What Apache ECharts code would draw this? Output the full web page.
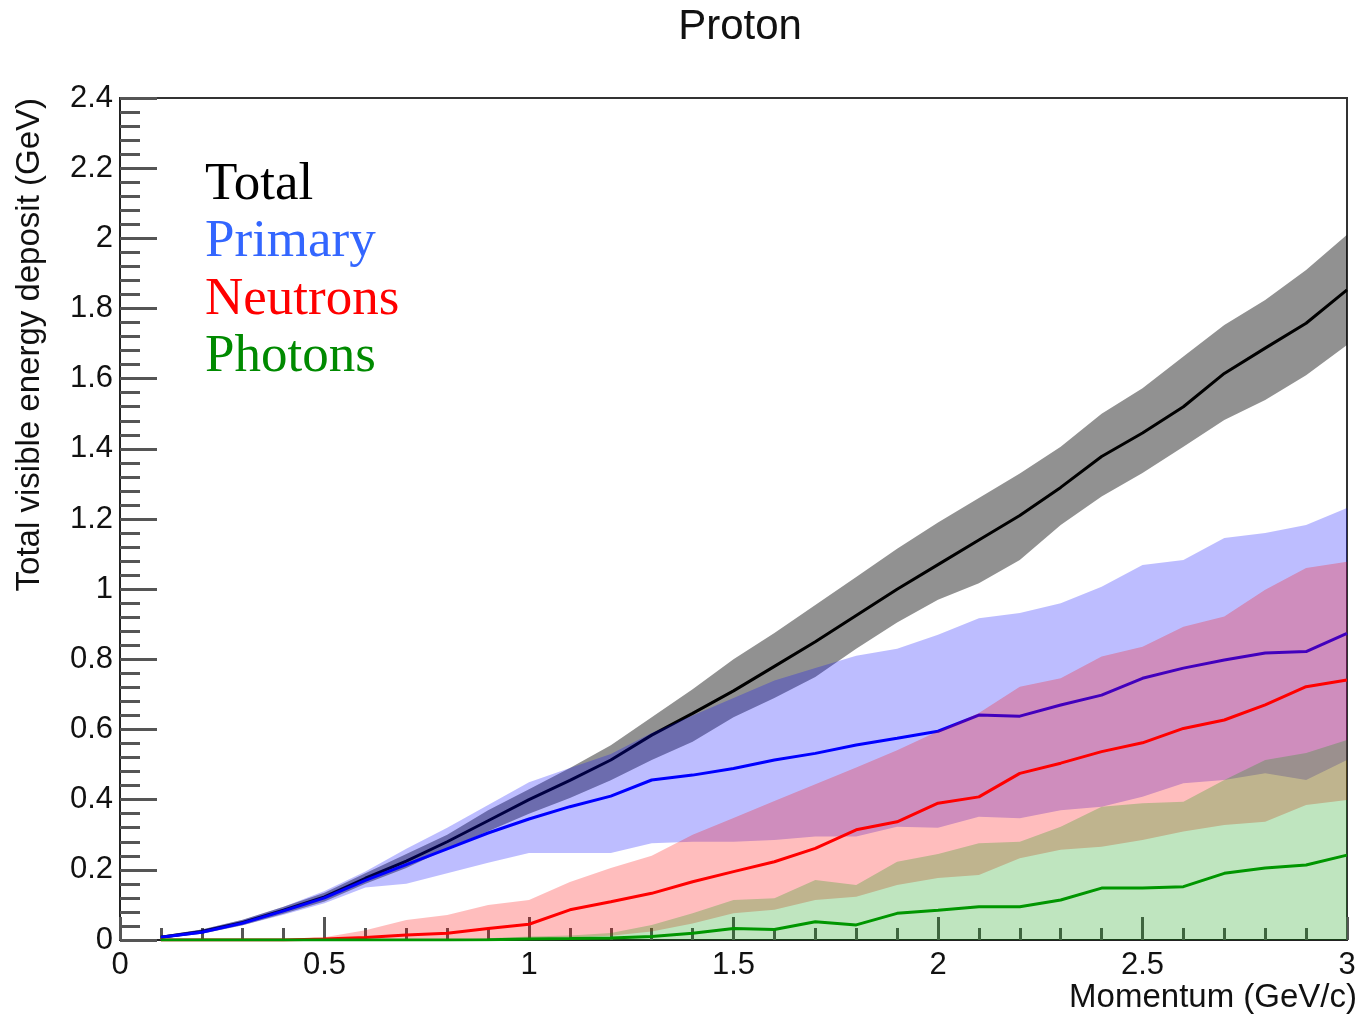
<!DOCTYPE html>
<html>
<head>
<meta charset="utf-8">
<title>Proton</title>
<script src="https://cdn.jsdelivr.net/npm/echarts@6/dist/echarts.min.js"></script>
<style>
  html, body { margin: 0; padding: 0; background: #fff; }
  #chart { width: 1363px; height: 1020px; }
</style>
</head>
<body>
<div id="chart"></div>
<script>
// momentum bins (GeV/c)
var momentum = [0.1, 0.2, 0.3, 0.4, 0.5, 0.6, 0.7, 0.8, 0.9, 1.0,
                1.1, 1.2, 1.3, 1.4, 1.5, 1.6, 1.7, 1.8, 1.9, 2.0,
                2.1, 2.2, 2.3, 2.4, 2.5, 2.6, 2.7, 2.8, 2.9, 3.0];

// Total
var totalMean = [0.008, 0.024, 0.05, 0.085, 0.123, 0.176, 0.225, 0.28, 0.34, 0.40,
                 0.455, 0.513, 0.584, 0.646, 0.71, 0.78, 0.85, 0.925, 1.0, 1.07,
                 1.14, 1.21, 1.29, 1.378, 1.445, 1.52, 1.615, 1.687, 1.758, 1.853];
var totalHi   = [0.012, 0.03, 0.058, 0.095, 0.135, 0.19, 0.245, 0.30, 0.37, 0.43,
                 0.49, 0.555, 0.635, 0.715, 0.80, 0.875, 0.955, 1.035, 1.115, 1.19,
                 1.26, 1.33, 1.406, 1.50, 1.573, 1.663, 1.753, 1.824, 1.91, 2.01];
var totalLo   = [0.004, 0.018, 0.042, 0.075, 0.11, 0.16, 0.205, 0.26, 0.31, 0.36,
                 0.405, 0.455, 0.513, 0.565, 0.635, 0.69, 0.75, 0.83, 0.905, 0.97,
                 1.017, 1.083, 1.183, 1.264, 1.331, 1.406, 1.482, 1.539, 1.61, 1.696];

// Primary
var primaryMean = [0.008, 0.022, 0.048, 0.083, 0.12, 0.17, 0.215, 0.26, 0.305, 0.345,
                   0.38, 0.41, 0.456, 0.47, 0.489, 0.513, 0.532, 0.556, 0.575, 0.595,
                   0.641, 0.638, 0.67, 0.698, 0.746, 0.775, 0.798, 0.818, 0.822, 0.874];
var primaryHi   = [0.012, 0.03, 0.058, 0.095, 0.14, 0.195, 0.26, 0.32, 0.385, 0.45,
                   0.49, 0.53, 0.59, 0.64, 0.69, 0.74, 0.775, 0.81, 0.83, 0.87,
                   0.917, 0.932, 0.96, 1.007, 1.069, 1.083, 1.146, 1.16, 1.183, 1.231];
var primaryLo   = [0.004, 0.018, 0.042, 0.072, 0.105, 0.15, 0.16, 0.19, 0.22, 0.248,
                   0.248, 0.248, 0.276, 0.28, 0.28, 0.285, 0.295, 0.295, 0.323, 0.32,
                   0.351, 0.347, 0.37, 0.38, 0.408, 0.447, 0.456, 0.475, 0.456, 0.513];

// Neutrons
var neutronMean = [0, 0, 0, 0, 0.003, 0.007, 0.014, 0.019, 0.033, 0.045,
                   0.086, 0.109, 0.133, 0.166, 0.195, 0.223, 0.261, 0.314, 0.337, 0.39,
                   0.408, 0.475, 0.504, 0.537, 0.562, 0.603, 0.627, 0.67, 0.722, 0.741];
var neutronHi   = [0, 0, 0, 0.002, 0.008, 0.028, 0.057, 0.071, 0.10, 0.114,
                   0.165, 0.205, 0.24, 0.30, 0.348, 0.396, 0.444, 0.492, 0.541, 0.595,
                   0.647, 0.722, 0.746, 0.808, 0.836, 0.893, 0.922, 0.998, 1.06, 1.078];
var neutronLo   = [0, 0, 0, 0, 0, 0, 0, 0, 0.002, 0.005,
                   0.008, 0.012, 0.024, 0.047, 0.076, 0.086, 0.114, 0.123, 0.157, 0.177,
                   0.185, 0.233, 0.257, 0.266, 0.285, 0.309, 0.328, 0.337, 0.385, 0.399];

// Photons
var photonMean = [0, 0, 0, 0, 0, 0, 0, 0, 0.001, 0.003,
                  0.004, 0.006, 0.01, 0.019, 0.033, 0.03, 0.052, 0.043, 0.076, 0.085,
                  0.095, 0.095, 0.114, 0.148, 0.148, 0.152, 0.19, 0.205, 0.214, 0.242];
var photonHi   = [0, 0, 0, 0, 0, 0, 0, 0, 0.005, 0.01,
                  0.013, 0.02, 0.043, 0.076, 0.114, 0.119, 0.171, 0.157, 0.223, 0.245,
                  0.276, 0.28, 0.323, 0.38, 0.39, 0.394, 0.456, 0.513, 0.533, 0.57];
var photonLo   = [0, 0, 0, 0, 0, 0, 0, 0, 0, 0,
                  0, 0, 0, 0, 0, 0, 0, 0, 0, 0,
                  0, 0, 0, 0, 0, 0, 0, 0, 0, 0];

var legendNames = ['Total', 'Primary', 'Neutrons', 'Photons'];

var myChart = echarts.init(document.getElementById('chart'));

function pairs(ys) {
    return momentum.map(function (x, i) { return [x, ys[i]]; });
}

// error band drawn as one polygon: upper edge left->right, lower edge back
function band(lo, hi, fill, z) {
    return {
        type: 'custom', z: z, silent: true, clip: true,
        data: pairs(hi),
        renderItem: function (params, api) {
            if (params.dataIndex !== 0) return;
            var pts = [];
            momentum.forEach(function (x, i) { pts.push(api.coord([x, hi[i]])); });
            for (var i = momentum.length - 1; i >= 0; i--) {
                pts.push(api.coord([momentum[i], lo[i]]));
            }
            return { type: 'polygon', shape: { points: pts }, style: { fill: fill } };
        }
    };
}

function meanLine(name, ys, color, z) {
    return {
        name: name, type: 'line', z: z, silent: true,
        data: pairs(ys), symbol: 'none',
        lineStyle: { color: color, width: 3 }
    };
}

var axisFont = 'Liberation Sans';

option = {
    animation: false,
    grid: {
        left: 120, right: 16, top: 98, bottom: 80,
        show: true, borderColor: '#333', borderWidth: 2
    },
    xAxis: {
        type: 'value', min: 0, max: 3, interval: 0.5,
        axisLine: { lineStyle: { color: '#222', width: 2 } },
        axisTick: { inside: true, length: 23, lineStyle: { color: '#555', width: 3 } },
        minorTick: { show: true, splitNumber: 5, length: 12, lineStyle: { color: '#555', width: 3 } },
        splitLine: { show: false },
        axisLabel: { color: '#111', fontSize: 31, fontFamily: axisFont, margin: 10 }
    },
    yAxis: {
        type: 'value', min: 0, max: 2.4, interval: 0.2,
        axisLine: { show: true, lineStyle: { color: '#222', width: 2 } },
        axisTick: { show: true, inside: true, length: 37, lineStyle: { color: '#555', width: 3 } },
        minorTick: { show: true, splitNumber: 5, length: 20, lineStyle: { color: '#555', width: 3 } },
        splitLine: { show: false },
        axisLabel: { color: '#111', fontSize: 31, fontFamily: axisFont, margin: 7 }
    },
    graphic: [
        { type: 'text', x: 740, y: 27,
          style: { text: 'Proton', font: '42px "Liberation Sans"', fill: '#111',
                   textAlign: 'center', textVerticalAlign: 'middle', align: 'center', verticalAlign: 'middle' } },
        { type: 'text', x: 1357, y: 998,
          style: { text: 'Momentum (GeV/c)', font: '33px "Liberation Sans"', fill: '#111',
                   textAlign: 'right', textVerticalAlign: 'middle', align: 'right', verticalAlign: 'middle' } },
        { type: 'text', x: 30, y: 98, rotation: Math.PI / 2,
          style: { text: 'Total visible energy deposit (GeV)', font: '33px "Liberation Sans"', fill: '#111',
                   textAlign: 'right', textVerticalAlign: 'middle', align: 'right', verticalAlign: 'middle' } },
        { type: 'text', x: 205, y: 185,
          style: { text: legendNames[0], font: '53px "Liberation Serif"', fill: '#000',
                   textVerticalAlign: 'middle', verticalAlign: 'middle' } },
        { type: 'text', x: 205, y: 242,
          style: { text: legendNames[1], font: '53px "Liberation Serif"', fill: '#3366ff',
                   textVerticalAlign: 'middle', verticalAlign: 'middle' } },
        { type: 'text', x: 205, y: 300,
          style: { text: legendNames[2], font: '53px "Liberation Serif"', fill: '#ff0000',
                   textVerticalAlign: 'middle', verticalAlign: 'middle' } },
        { type: 'text', x: 205, y: 357,
          style: { text: legendNames[3], font: '53px "Liberation Serif"', fill: '#008a00',
                   textVerticalAlign: 'middle', verticalAlign: 'middle' } }
    ],
    series: [
        band(totalLo, totalHi, 'rgba(0,0,0,0.43)', 2),
        meanLine('Total', totalMean, '#000000', 3),
        band(primaryLo, primaryHi, 'rgba(0,0,255,0.26)', 4),
        meanLine('Primary', primaryMean, '#0000ff', 5),
        band(neutronLo, neutronHi, 'rgba(255,0,0,0.26)', 6),
        meanLine('Neutrons', neutronMean, '#ff0000', 7),
        band(photonLo, photonHi, 'rgba(0,150,0,0.25)', 8),
        meanLine('Photons', photonMean, '#009600', 9)
    ]
};

myChart.setOption(option, true);
</script>
</body>
</html>
